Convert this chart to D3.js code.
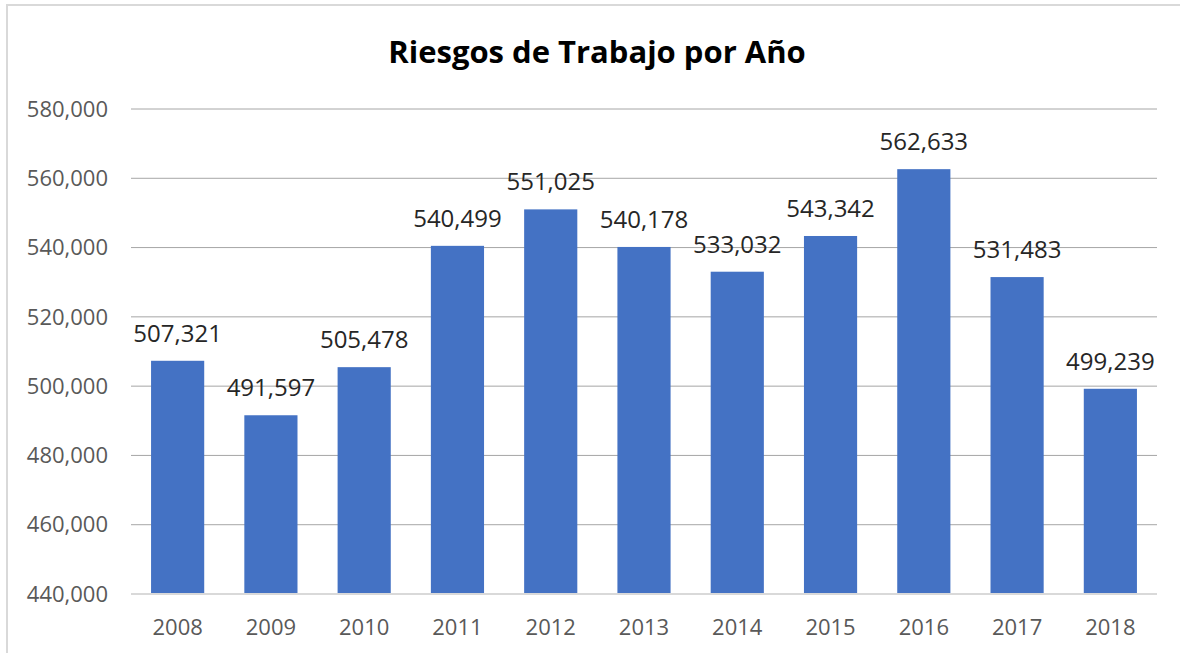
<!DOCTYPE html>
<html>
<head>
<meta charset="utf-8">
<script src="https://cdn.jsdelivr.net/npm/d3@7"></script>
<style>
  body { margin: 0; background: #fff; }
  svg { display: block; font-family: "Open Sans", "Liberation Sans", sans-serif; }
</style>
</head>
<body>
<svg id="chart"></svg>
<script>
const years = ["2008", "2009", "2010", "2011", "2012", "2013", "2014", "2015", "2016", "2017", "2018"];
const riesgos = [507321, 491597, 505478, 540499, 551025, 540178, 533032, 543342, 562633, 531483, 499239];
const yTicks = [440000, 460000, 480000, 500000, 520000, 540000, 560000, 580000];

const width = 1180;
const height = 653;
const margin = { top: 109, right: 23, bottom: 59, left: 131 };

const svg = d3.select("#chart")
  .attr("width", width)
  .attr("height", height);

// chart frame (only top and left edges visible in the picture)
svg.append("rect")
  .attr("x", 7)
  .attr("y", 5)
  .attr("width", width + 20)
  .attr("height", height + 20)
  .attr("fill", "none")
  .attr("stroke", "#d9d9d9")
  .attr("stroke-width", 2);

const x = d3.scaleBand()
  .domain(years)
  .range([margin.left, width - margin.right])
  .paddingInner(0.43)
  .paddingOuter(0.215);

const y = d3.scaleLinear()
  .domain([440000, 580000])
  .range([height - margin.bottom, margin.top]);

const fmt = d3.format(",");

// gridlines
svg.append("g")
  .selectAll("line")
  .data(yTicks.slice(1))
  .join("line")
  .attr("x1", margin.left)
  .attr("x2", width - margin.right)
  .attr("y1", (d) => y(d))
  .attr("y2", (d) => y(d))
  .attr("stroke", "#a6a6a6")
  .attr("stroke-width", 1);

// y labels
svg.append("g")
  .selectAll("text")
  .data(yTicks)
  .join("text")
  .attr("x", 108)
  .attr("y", (d) => y(d))
  .attr("dy", "0.35em")
  .attr("text-anchor", "end")
  .attr("fill", "#595959")
  .attr("font-size", 22)
  .text((d) => fmt(d));

// bars
svg.append("g")
  .selectAll("rect")
  .data(riesgos)
  .join("rect")
  .attr("x", (d, i) => x(years[i]))
  .attr("y", (d) => y(d))
  .attr("width", x.bandwidth())
  .attr("height", (d) => y(440000) - y(d))
  .attr("fill", "#4472c4");

// baseline axis
svg.append("line")
  .attr("x1", margin.left)
  .attr("x2", width - margin.right)
  .attr("y1", y(440000))
  .attr("y2", y(440000))
  .attr("stroke", "#d9d9d9")
  .attr("stroke-width", 2);

// x labels
svg.append("g")
  .selectAll("text")
  .data(years)
  .join("text")
  .attr("x", (d) => x(d) + x.bandwidth() / 2)
  .attr("y", 635)
  .attr("text-anchor", "middle")
  .attr("fill", "#595959")
  .attr("font-size", 22)
  .text((d) => d);

// value labels
svg.append("g")
  .selectAll("text")
  .data(riesgos)
  .join("text")
  .attr("x", (d, i) => x(years[i]) + x.bandwidth() / 2)
  .attr("y", (d) => y(d) - 19)
  .attr("text-anchor", "middle")
  .attr("fill", "#262626")
  .attr("font-size", 24)
  .text((d) => fmt(d));

// title
svg.append("text")
  .attr("x", 597)
  .attr("y", 63)
  .attr("text-anchor", "middle")
  .attr("font-size", 31)
  .attr("font-weight", "bold")
  .attr("fill", "#000")
  .text("Riesgos de Trabajo por Año");
</script>
</body>
</html>
